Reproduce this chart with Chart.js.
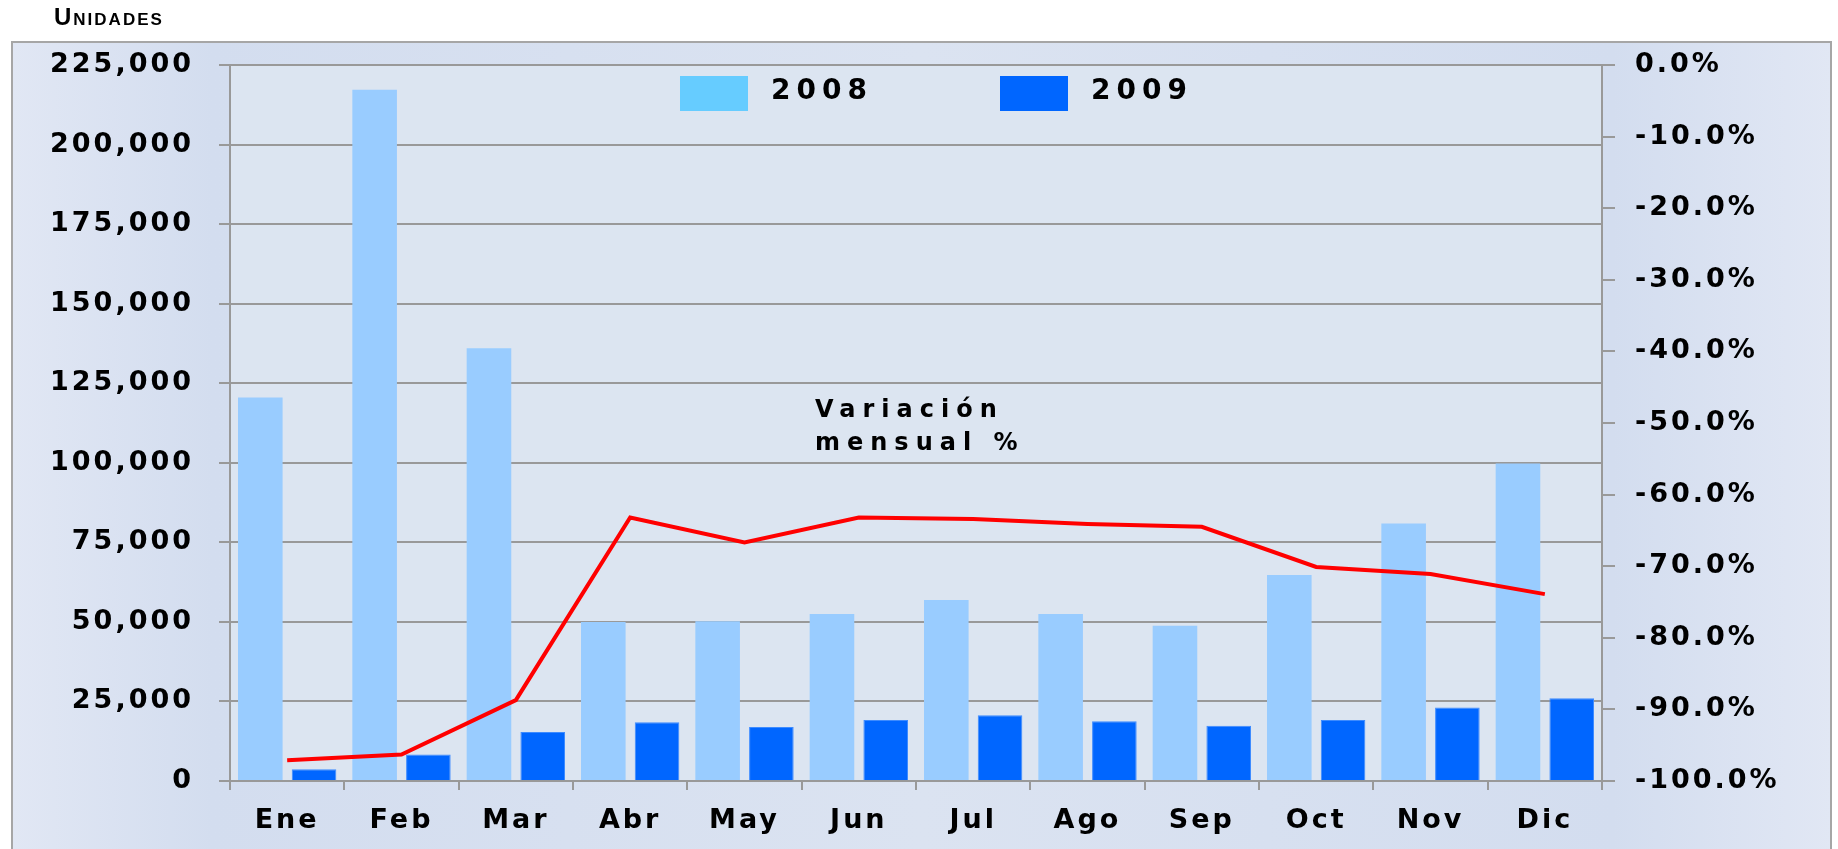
<!DOCTYPE html>
<html>
<head>
<meta charset="utf-8">
<script src="https://cdn.jsdelivr.net/npm/chart.js@4.4.1/dist/chart.umd.min.js"></script>
<style>
  html, body { margin: 0; padding: 0; background: #fff; }
  #wrap { position: relative; width: 1838px; height: 849px; }
  #title {
    position: absolute; left: 54px; top: 3px;
    font: bold 24px "Liberation Sans", Arial, sans-serif;
    font-variant: small-caps; letter-spacing: 2px; color: #000;
  }
</style>
</head>
<body>
<div id="wrap">
  <canvas id="chart" width="1838" height="849"></canvas>
  <div id="title">Unidades</div>
</div>
<script>
const months = ['Ene', 'Feb', 'Mar', 'Abr', 'May', 'Jun', 'Jul', 'Ago', 'Sep', 'Oct', 'Nov', 'Dic']
const units2008 = [120500, 217200, 136000, 50000, 50200, 52500, 56900, 52500, 48800, 64700, 80900, 99800]
const units2009 = [3700, 8300, 15400, 18500, 17000, 19200, 20700, 18800, 17400, 19200, 23100, 26000]
const variation = [-97.1, -96.3, -88.7, -63.2, -66.7, -63.2, -63.4, -64.1, -64.5, -70.1, -71.1, -73.9]
const seriesNames = ['2008', '2009']
const lineNote = ['Variación', 'mensual %']

const gridGray = '#999999'
const tickFont = { family: 'DejaVu Sans', size: 27, weight: 'bold' }

// canvas letter spacing, the original labels are very wide
const spacing = {
  id: 'spacing',
  beforeLayout(chart) { chart.ctx.letterSpacing = '3px' },
  beforeDraw(chart) { chart.ctx.letterSpacing = '3px' }
}

const panel = {
  id: 'panel',
  beforeDraw(chart) {
    const ctx = chart.ctx
    const ca = chart.chartArea
    ctx.save()
    ctx.fillStyle = '#ffffff'
    ctx.fillRect(0, 0, chart.width, chart.height)
    const g = ctx.createLinearGradient(12, 0, chart.width - 7, 0)
    g.addColorStop(0, '#e1e7f4')
    g.addColorStop(0.11, '#d3ddef')
    g.addColorStop(0.5, '#dbe3f1')
    g.addColorStop(0.88, '#d3ddef')
    g.addColorStop(1, '#e1e7f4')
    ctx.fillStyle = g
    ctx.fillRect(12, 42, chart.width - 19, chart.height)
    ctx.strokeStyle = '#a6a6a6'
    ctx.lineWidth = 2
    ctx.strokeRect(12, 42, chart.width - 19, chart.height + 10)
    ctx.fillStyle = '#dce5f1'
    ctx.fillRect(ca.left, ca.top, ca.right - ca.left, ca.bottom - ca.top)
    ctx.restore()
  },
  afterDraw(chart) {
    const ctx = chart.ctx
    const ca = chart.chartArea
    ctx.save()
    // legend inside the plot
    const swatch = ['#66ccff', '#0066ff']
    const boxX = [ca.left + 450, ca.left + 770]
    ctx.font = 'bold 28px "DejaVu Sans"'
    ctx.letterSpacing = '6px'
    ctx.textBaseline = 'middle'
    ctx.textAlign = 'left'
    seriesNames.forEach((name, i) => {
      ctx.fillStyle = swatch[i]
      ctx.fillRect(boxX[i], ca.top + 11, 68, 35)
      ctx.fillStyle = '#000'
      ctx.fillText(name, boxX[i] + 91, ca.top + 27)
    })
    // note for the line
    ctx.font = 'bold 24px "DejaVu Sans"'
    ctx.letterSpacing = '7px'
    ctx.textBaseline = 'alphabetic'
    ctx.fillText(lineNote[0], 815, 417)
    ctx.fillText(lineNote[1], 815, 450)
    ctx.restore()
  }
}

new Chart(document.getElementById('chart'), {
  data: {
    labels: months,
    datasets: [
      {
        type: 'line',
        label: 'Variación mensual %',
        data: variation,
        yAxisID: 'y1',
        borderColor: '#ff0000',
        borderWidth: 4,
        pointRadius: 0,
        tension: 0,
        order: 0
      },
      {
        type: 'bar',
        label: seriesNames[0],
        data: units2008,
        backgroundColor: '#99ccff',
        yAxisID: 'y',
        categoryPercentage: 0.94,
        barPercentage: 0.83,
        order: 1
      },
      {
        type: 'bar',
        label: seriesNames[1],
        data: units2009,
        backgroundColor: '#0066ff',
        borderColor: '#3d8bff',
        borderWidth: 1,
        yAxisID: 'y',
        categoryPercentage: 0.94,
        barPercentage: 0.83,
        order: 1
      }
    ]
  },
  options: {
    responsive: false,
    animation: false,
    devicePixelRatio: 1,
    layout: { padding: { top: 65, left: 0, right: 0, bottom: 0 } },
    plugins: {
      legend: { display: false },
      tooltip: { enabled: false }
    },
    scales: {
      x: {
        grid: { offset: true, drawOnChartArea: false, color: gridGray, lineWidth: 2, tickLength: 9 },
        border: { color: gridGray, width: 2 },
        ticks: { color: '#000', font: tickFont, padding: 15, maxRotation: 0, autoSkip: false },
        afterFit: s => { s.height = 68 }
      },
      y: {
        position: 'left',
        min: 0,
        max: 225000,
        grid: { color: gridGray, lineWidth: 2, tickLength: 11 },
        border: { color: gridGray, width: 2 },
        ticks: {
          stepSize: 25000,
          color: '#000',
          font: tickFont,
          padding: 25,
          callback: v => v.toLocaleString('en-US')
        },
        afterFit: s => { s.width = 230 }
      },
      y1: {
        position: 'right',
        min: -100,
        max: 0,
        grid: { drawOnChartArea: false, color: gridGray, lineWidth: 2, tickLength: 13 },
        border: { color: gridGray, width: 2 },
        ticks: {
          stepSize: 10,
          color: '#000',
          font: tickFont,
          padding: 20,
          callback: v => v.toFixed(1) + '%'
        },
        afterFit: s => { s.width = 236 }
      }
    }
  },
  plugins: [spacing, panel]
})
</script>
</body>
</html>
